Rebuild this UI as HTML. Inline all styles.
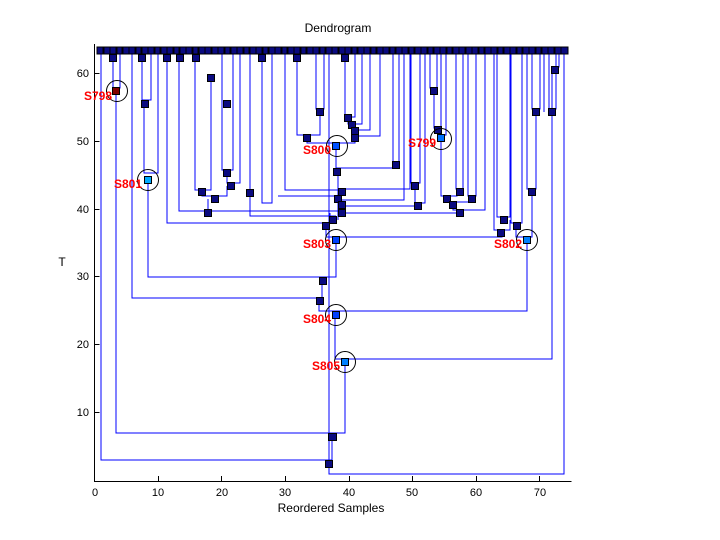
<!DOCTYPE html>
<html><head><meta charset="utf-8"><style>
body{margin:0;background:#fff}
svg{display:block;font-family:"Liberation Sans",Arial,sans-serif}
</style></head><body>
<svg width="720" height="540" xmlns="http://www.w3.org/2000/svg" shape-rendering="crispEdges">
<rect width="720" height="540" fill="#fff"/>
<text x="338" y="32" font-size="12" text-anchor="middle">Dendrogram</text>
<text x="331" y="512" font-size="12" text-anchor="middle">Reordered Samples</text>
<text x="62" y="266" font-size="12" text-anchor="middle">T</text>
<g stroke="#000" stroke-width="1" fill="none">
<path d="M94.5 44V481.5H571.5"/>
<path d="M94.5 412.5h5M94.5 344.5h5M94.5 276.5h5M94.5 209.5h5M94.5 141.5h5M94.5 73.5h5"/>
<path d="M158.5 481v-5M221.5 481v-5M285.5 481v-5M349.5 481v-5M412.5 481v-5M476.5 481v-5M539.5 481v-5"/>
</g>
<g font-size="11" text-anchor="end">
<text x="89" y="416">10</text><text x="89" y="348">20</text><text x="89" y="280">30</text><text x="89" y="213">40</text><text x="89" y="145">50</text><text x="89" y="77">60</text>
</g>
<g font-size="11" text-anchor="middle">
<text x="95" y="496">0</text><text x="158" y="496">10</text><text x="222" y="496">20</text><text x="285" y="496">30</text><text x="349" y="496">40</text><text x="412" y="496">50</text><text x="476" y="496">60</text><text x="540" y="496">70</text>
</g>
<g stroke="#0000ff" stroke-width="1" fill="none">
<polyline points="329,50 329,474 564,474 564,50"/>
<polyline points="101,50 101,460 332,460 332,437"/>
<polyline points="116,91 116,433 345,433 345,362"/>
<polyline points="335,315 335,359 552,359 552,70"/>
<polyline points="319,301 319,311 527,311 527,240"/>
<polyline points="132,50 132,298 322,298 322,281"/>
<polyline points="148,180 148,277 336,277 336,240"/>
<polyline points="326,226 326,237 502,237 502,233"/>
<polyline points="516,226 516,237 532,237 532,192"/>
<polyline points="494,50 494,230 510,230 510,220"/>
<polyline points="113,58 113,88 120,88 120,50"/>
<polyline points="144,104 144,173 158,173 158,50"/>
<polyline points="142,58 142,100 151,100 151,50"/>
<polyline points="167,50 167,223 330,223 330,213"/>
<polyline points="250,50 250,216 336,216"/>
<polyline points="179,58 179,211 340,211"/>
<polyline points="195,58 195,190 211,190 211,78"/>
<polyline points="202,192 202,196 227,196 227,186"/>
<polyline points="208,213 208,199"/>
<polyline points="222,50 222,170 233,170 233,50"/>
<polyline points="227,173 227,183 240,183 240,50"/>
<polyline points="262,58 262,203 272,203 272,50"/>
<polyline points="278,196 340,196"/>
<polyline points="285,50 285,190 340,190"/>
<polyline points="297,58 297,135 320,135 320,112"/>
<polyline points="316,50 316,109 324,109 324,50"/>
<polyline points="307,138 307,143 355,143 355,138"/>
<polyline points="345,57 345,117 355,117 355,50"/>
<polyline points="348,118 348,124 362,124 362,50"/>
<polyline points="352,125 352,130 370,130 370,50"/>
<polyline points="355,131 355,136 380,136 380,50"/>
<polyline points="336,146 336,168 396,168 396,165"/>
<polyline points="393,50 393,162 399,162 399,50"/>
<polyline points="338,172 338,220"/>
<polyline points="342,189 410,189 410,50"/>
<polyline points="411,50 411,183 420,183 420,50"/>
<polyline points="415,186 415,203 425,203 425,50"/>
<polyline points="342,206 418,206"/>
<polyline points="404,50 404,200 342,200"/>
<polyline points="430,50 430,88 437,88 437,50"/>
<polyline points="434,91 434,128 441,128 441,50"/>
<polyline points="438,130 438,135 446,135 446,50"/>
<polyline points="441,138 441,196 457,196 457,192"/>
<polyline points="456,50 456,189 463,189 463,50"/>
<polyline points="447,199 447,202 470,202 470,199"/>
<polyline points="468,50 468,196 476,196 476,50"/>
<polyline points="453,205 453,210 485,210 485,50"/>
<polyline points="342,213 460,213"/>
<polyline points="497,50 497,217 510,217 510,50"/>
<polyline points="511,50 511,223 522,223 522,50"/>
<polyline points="527,50 527,189 536,189 536,112"/>
<polyline points="532,50 532,109 540,109 540,50"/>
<polyline points="549,50 549,109 556,109 556,50"/>
<polyline points="552,112 552,67 559,67 559,50"/>
<polyline points="544,50 544,112"/>
</g>
<g fill="#0a0a80" stroke="#000" stroke-width="1">
<path d="M97 47h7v7h-7zM103 47h7v7h-7zM110 47h7v7h-7zM116 47h7v7h-7zM122 47h7v7h-7zM129 47h7v7h-7zM135 47h7v7h-7zM141 47h7v7h-7zM148 47h7v7h-7zM154 47h7v7h-7zM160 47h7v7h-7zM167 47h7v7h-7zM173 47h7v7h-7zM179 47h7v7h-7zM186 47h7v7h-7zM192 47h7v7h-7zM198 47h7v7h-7zM205 47h7v7h-7zM211 47h7v7h-7zM218 47h7v7h-7zM224 47h7v7h-7zM230 47h7v7h-7zM237 47h7v7h-7zM243 47h7v7h-7zM249 47h7v7h-7zM256 47h7v7h-7zM262 47h7v7h-7zM268 47h7v7h-7zM275 47h7v7h-7zM281 47h7v7h-7zM287 47h7v7h-7zM294 47h7v7h-7zM300 47h7v7h-7zM306 47h7v7h-7zM313 47h7v7h-7zM319 47h7v7h-7zM325 47h7v7h-7zM332 47h7v7h-7zM338 47h7v7h-7zM345 47h7v7h-7zM351 47h7v7h-7zM357 47h7v7h-7zM364 47h7v7h-7zM370 47h7v7h-7zM376 47h7v7h-7zM383 47h7v7h-7zM389 47h7v7h-7zM395 47h7v7h-7zM402 47h7v7h-7zM408 47h7v7h-7zM414 47h7v7h-7zM421 47h7v7h-7zM427 47h7v7h-7zM433 47h7v7h-7zM440 47h7v7h-7zM446 47h7v7h-7zM452 47h7v7h-7zM459 47h7v7h-7zM465 47h7v7h-7zM472 47h7v7h-7zM478 47h7v7h-7zM484 47h7v7h-7zM491 47h7v7h-7zM497 47h7v7h-7zM503 47h7v7h-7zM510 47h7v7h-7zM516 47h7v7h-7zM522 47h7v7h-7zM529 47h7v7h-7zM535 47h7v7h-7zM541 47h7v7h-7zM548 47h7v7h-7zM554 47h7v7h-7zM561 47h7v7h-7z"/>
</g>
<g fill="#0a0a80" stroke="#000" stroke-width="1">
<rect x="109.5" y="54.5" width="7" height="7"/><rect x="138.5" y="54.5" width="7" height="7"/><rect x="163.5" y="54.5" width="7" height="7"/><rect x="176.5" y="54.5" width="7" height="7"/><rect x="192.5" y="54.5" width="7" height="7"/><rect x="258.5" y="54.5" width="7" height="7"/><rect x="293.5" y="54.5" width="7" height="7"/><rect x="341.5" y="54.5" width="7" height="7"/>
<rect x="207.5" y="74.5" width="7" height="7"/><rect x="141.5" y="100.5" width="7" height="7"/><rect x="223.5" y="100.5" width="7" height="7"/><rect x="316.5" y="108.5" width="7" height="7"/><rect x="303.5" y="134.5" width="7" height="7"/>
<rect x="344.5" y="114.5" width="7" height="7"/><rect x="348.5" y="121.5" width="7" height="7"/><rect x="351.5" y="127.5" width="7" height="7"/><rect x="351.5" y="134.5" width="7" height="7"/>
<rect x="392.5" y="161.5" width="7" height="7"/><rect x="333.5" y="168.5" width="7" height="7"/><rect x="223.5" y="169.5" width="7" height="7"/><rect x="411.5" y="182.5" width="7" height="7"/><rect x="227.5" y="182.5" width="7" height="7"/><rect x="198.5" y="188.5" width="7" height="7"/><rect x="246.5" y="189.5" width="7" height="7"/><rect x="211.5" y="195.5" width="7" height="7"/><rect x="204.5" y="209.5" width="7" height="7"/>
<rect x="338.5" y="188.5" width="7" height="7"/><rect x="334.5" y="195.5" width="7" height="7"/><rect x="338.5" y="201.5" width="7" height="7"/><rect x="338.5" y="209.5" width="7" height="7"/><rect x="329.5" y="216.5" width="7" height="7"/><rect x="414.5" y="202.5" width="7" height="7"/>
<rect x="430.5" y="87.5" width="7" height="7"/><rect x="434.5" y="126.5" width="7" height="7"/><rect x="456.5" y="188.5" width="7" height="7"/><rect x="443.5" y="195.5" width="7" height="7"/><rect x="449.5" y="201.5" width="7" height="7"/><rect x="468.5" y="195.5" width="7" height="7"/><rect x="456.5" y="209.5" width="7" height="7"/>
<rect x="500.5" y="216.5" width="7" height="7"/><rect x="513.5" y="222.5" width="7" height="7"/><rect x="497.5" y="229.5" width="7" height="7"/><rect x="322.5" y="222.5" width="7" height="7"/>
<rect x="532.5" y="108.5" width="7" height="7"/><rect x="548.5" y="108.5" width="7" height="7"/><rect x="551.5" y="66.5" width="7" height="7"/><rect x="528.5" y="188.5" width="7" height="7"/>
<rect x="319.5" y="277.5" width="7" height="7"/><rect x="316.5" y="297.5" width="7" height="7"/><rect x="328.5" y="433.5" width="8" height="7"/><rect x="325.5" y="460.5" width="7" height="7"/>
</g>
<g stroke="#000" stroke-width="1">
<rect x="112.5" y="87.5" width="7" height="7" fill="#800000"/>
<rect x="144.5" y="176.5" width="7" height="7" fill="#00aaff"/>
<rect x="332.5" y="142.5" width="7" height="7" fill="#0050ff"/>
<rect x="437.5" y="134.5" width="7" height="7" fill="#0070ff"/>
<rect x="332.5" y="236.5" width="7" height="7" fill="#0040ff"/>
<rect x="523.5" y="236.5" width="7" height="7" fill="#0080ff"/>
<rect x="332.5" y="311.5" width="7" height="7" fill="#0040ff"/>
<rect x="341.5" y="358.5" width="7" height="7" fill="#0080ff"/>
</g>
<g fill="none" stroke="#000" stroke-width="1" shape-rendering="auto">
<circle cx="117" cy="91" r="10.5"/><circle cx="148" cy="180" r="10.5"/><circle cx="337" cy="146" r="10.5"/><circle cx="441" cy="139" r="10.5"/><circle cx="336" cy="240" r="10.5"/><circle cx="527" cy="240" r="10.5"/><circle cx="336" cy="315" r="10.5"/><circle cx="345" cy="362" r="10.5"/>
</g>
<g fill="#ff0000" font-size="12" font-weight="bold" text-anchor="end">
<text x="112" y="100">S798</text><text x="142" y="188">S801</text><text x="331" y="154">S800</text><text x="436" y="147">S799</text><text x="331" y="248">S803</text><text x="522" y="248">S802</text><text x="331" y="323">S804</text><text x="340" y="370">S805</text>
</g>
</svg>
</body></html>
